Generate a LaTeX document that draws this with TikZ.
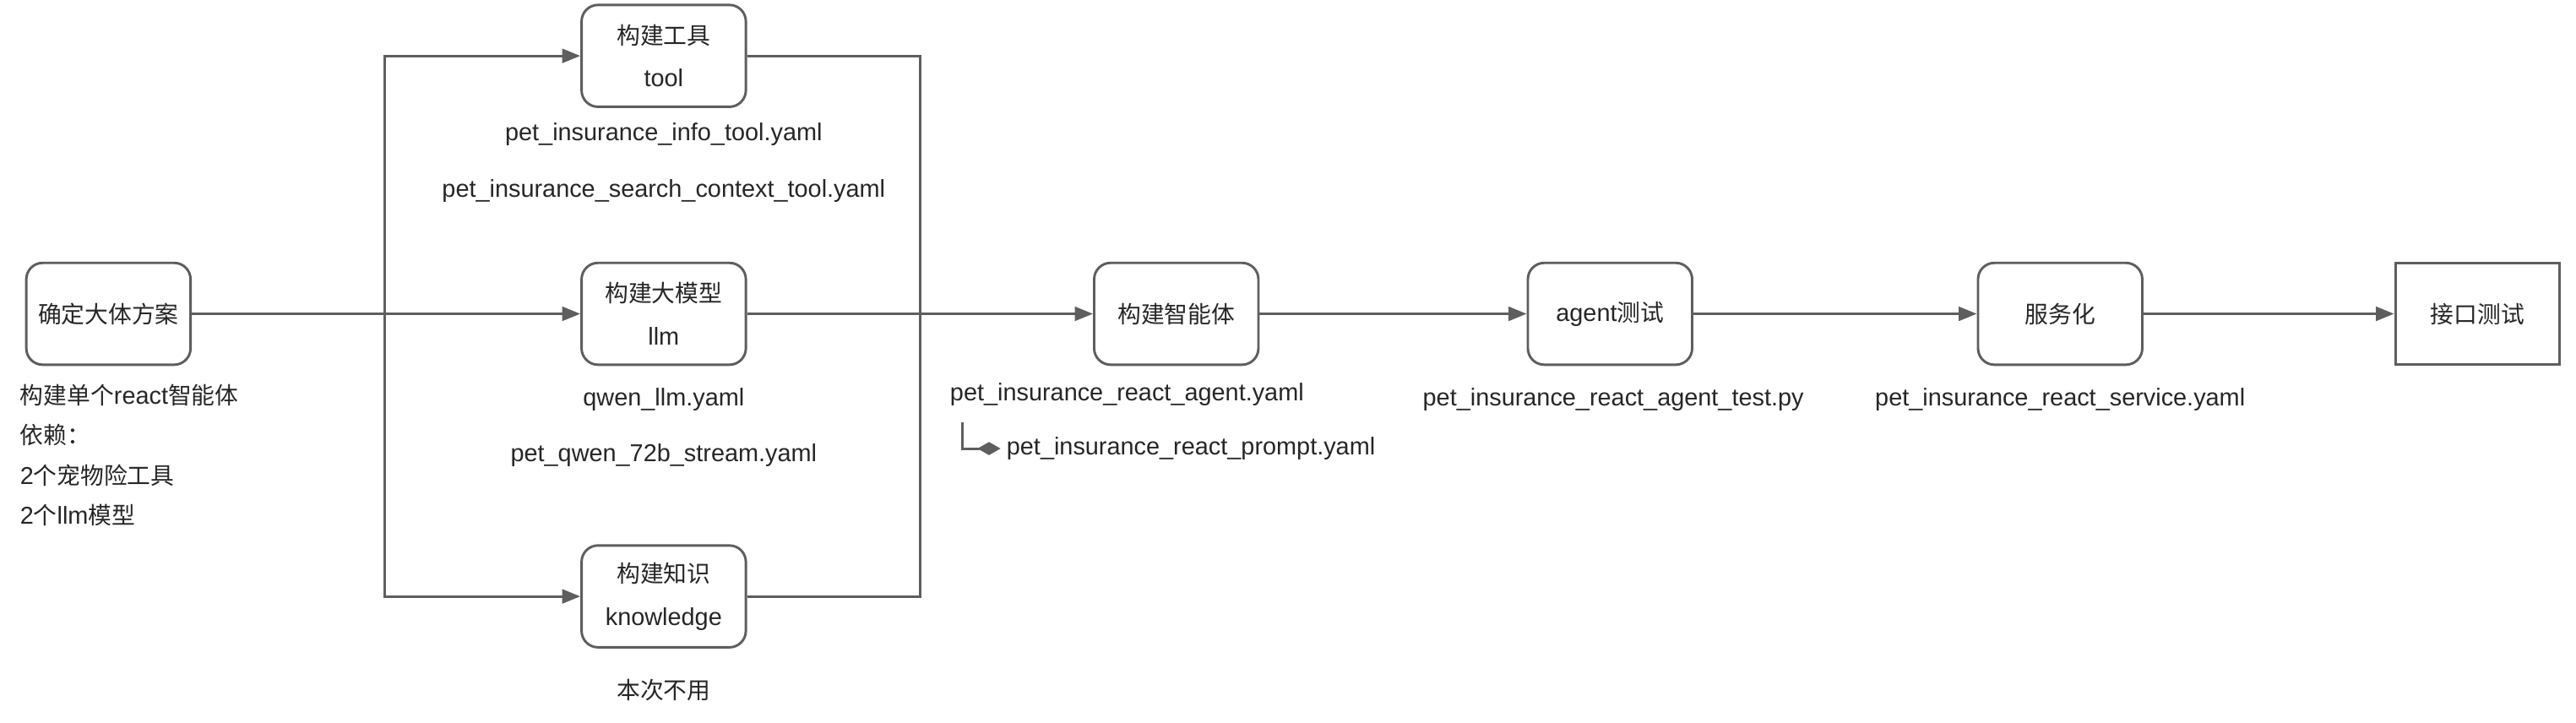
\documentclass[tikz,border=0pt]{standalone}
\usepackage{fontspec}
\setmainfont{Liberation Sans}[Scale=1.06]
\newfontfamily\zhfont{Noto Sans CJK SC}[Scale=1.02]
\newcommand{\zhtext}[1]{{\zhfont #1}}
\usepackage{xcolor}
\usetikzlibrary{arrows.meta}
\definecolor{linegray}{HTML}{5E5E5E}
\definecolor{textgray}{HTML}{262626}

\begin{document}
\begin{tikzpicture}[x=1pt,y=-1pt,
  box/.style={draw=linegray,line width=1.5pt,fill=white,rounded corners=10pt,align=center,
    minimum width=100pt,minimum height=62pt,inner sep=2pt,text=textgray,font=\fontsize{14}{26}\selectfont},
  sqbox/.style={box,rounded corners=0pt},
  file/.style={text=textgray,font=\fontsize{14}{17}\selectfont},
  arr/.style={-{Triangle[length=11pt,width=8.5pt]},draw=linegray,line width=1.5pt},
  ln/.style={draw=linegray,line width=1.5pt},
  dia/.style={-{Diamond[length=14pt,width=8pt]},draw=linegray,line width=1.5pt}
]
\useasboundingbox (0,0) rectangle (1568,440);

% boxes
\node[box] (plan) at (66,191) {\zhtext{确定大体方案}};
\node[box] (tool) at (404,34) {\zhtext{构建工具}\\tool};
\node[box] (llm) at (404,191) {\zhtext{构建大模型}\\llm};
\node[box] (know) at (404,363) {\zhtext{构建知识}\\knowledge};
\node[box] (agent) at (716,191) {\zhtext{构建智能体}};
\node[box] (test) at (980,191) {agent\zhtext{测试}};
\node[box] (serve) at (1254,191) {\zhtext{服务化}};
\node[sqbox] (api) at (1508,191) {\zhtext{接口测试}};

% texts
\node[file,anchor=west,align=left,font=\fontsize{14}{24.4}\selectfont] (note) at (8.5,277)
  {\zhtext{构建单个}react\zhtext{智能体}\\\zhtext{依赖：}\\2\zhtext{个宠物险工具}\\2\zhtext{个}llm\zhtext{模型}};
\node[file] (infotool) at (404,82) {pet\_insurance\_info\_tool.yaml};
\node[file] (searchtool) at (404,116) {pet\_insurance\_search\_context\_tool.yaml};
\node[file] (qwen) at (404,243) {qwen\_llm.yaml};
\node[file] (qwenbig) at (404,277) {pet\_qwen\_72b\_stream.yaml};
\node[file] (notuse) at (404,420) {\zhtext{本次不用}};
\node[file] (agentfile) at (686,240) {pet\_insurance\_react\_agent.yaml};
\node[file,anchor=west] (promptfile) at (609,273) {pet\_insurance\_react\_prompt.yaml};
\node[file] (testfile) at (982,243) {pet\_insurance\_react\_agent\_test.py};
\node[file] (servefile) at (1254,243) {pet\_insurance\_react\_service.yaml};

% connectors
\coordinate (jl) at (234,191);
\coordinate (jr) at (560,191);
\coordinate (pb) at (586,257);
\draw[arr] (plan) -- (llm);
\draw[arr] (jl) |- (tool.west);
\draw[arr] (jl) |- (know.west);
\draw[ln] (tool.east) -| (jr);
\draw[ln] (know.east) -| (jr);
\draw[arr] (llm) -- (agent);
\draw[arr] (agent) -- (test);
\draw[arr] (test) -- (serve);
\draw[arr] (serve) -- (api);
\draw[dia] (pb) |- (promptfile.west);
\end{tikzpicture}
\end{document}
